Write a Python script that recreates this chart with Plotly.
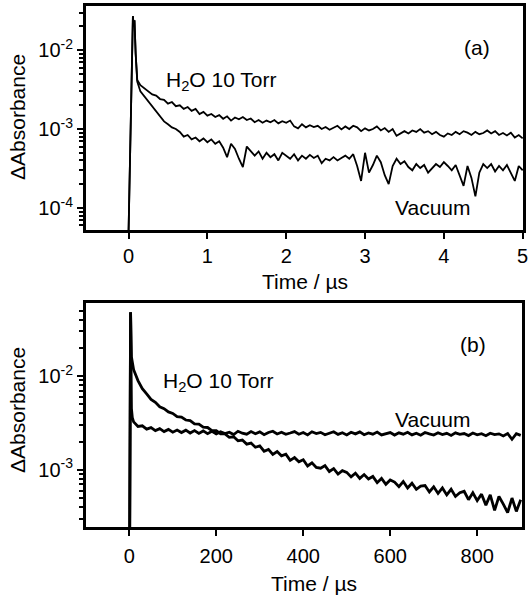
import plotly.graph_objects as go

# ---------------- Panel (a) data : time in µs, ΔAbsorbance ----------------
t_a_head = [0.0, 0.045, 0.055, 0.065, 0.075, 0.09, 0.11]
h2o_a_head = [5e-5, 2.0e-2, 2.7e-2, 2.0e-2, 2.4e-2, 9.0e-3, 4.2e-3]
vac_a_head = [5e-5, 2.0e-2, 2.7e-2, 2.0e-2, 2.4e-2, 9.0e-3, 4.0e-3]

t_a_tail = [0.15, 0.20, 0.25, 0.30, 0.35, 0.40, 0.45, 0.50, 0.55, 0.60,
            0.65, 0.70, 0.75, 0.80, 0.85, 0.90, 0.95, 1.00, 1.05, 1.10,
            1.15, 1.20, 1.25, 1.30, 1.35, 1.40, 1.45, 1.50, 1.55, 1.60,
            1.65, 1.70, 1.75, 1.80, 1.85, 1.90, 1.95, 2.00, 2.05, 2.10,
            2.15, 2.20, 2.25, 2.30, 2.35, 2.40, 2.45, 2.50, 2.55, 2.60,
            2.65, 2.70, 2.75, 2.80, 2.85, 2.90, 2.95, 3.00, 3.05, 3.10,
            3.15, 3.20, 3.25, 3.30, 3.35, 3.40, 3.45, 3.50, 3.55, 3.60,
            3.65, 3.70, 3.75, 3.80, 3.85, 3.90, 3.95, 4.00, 4.05, 4.10,
            4.15, 4.20, 4.25, 4.30, 4.35, 4.40, 4.45, 4.50, 4.55, 4.60,
            4.65, 4.70, 4.75, 4.80, 4.85, 4.90, 4.95, 5.00]

h2o_a_tail = [3.6e-3, 3.3e-3, 3.0e-3, 2.75e-3, 2.65e-3, 2.4e-3, 2.35e-3, 2.1e-3, 2.2e-3, 1.95e-3,
              2.0e-3, 1.8e-3, 1.9e-3, 1.7e-3, 1.8e-3, 1.55e-3, 1.65e-3, 1.48e-3, 1.55e-3, 1.42e-3,
              1.5e-3, 1.35e-3, 1.45e-3, 1.28e-3, 1.4e-3, 1.33e-3, 1.42e-3, 1.3e-3, 1.36e-3, 1.22e-3,
              1.3e-3, 1.2e-3, 1.28e-3, 1.22e-3, 1.3e-3, 1.18e-3, 1.26e-3, 1.2e-3, 1.28e-3, 1.08e-3,
              1.02e-3, 1.15e-3, 1.05e-3, 1.12e-3, 1.06e-3, 1.1e-3, 1.0e-3, 1.06e-3, 9.8e-4, 1.04e-3,
              1.1e-3, 9.9e-4, 1.08e-3, 1.0e-3, 1.1e-3, 1.05e-3, 9.4e-4, 1.02e-3, 9.6e-4, 1.0e-3,
              1.08e-3, 9.6e-4, 1.03e-3, 9.2e-4, 1.0e-3, 8.2e-4, 8.8e-4, 9.4e-4, 8.8e-4, 9.6e-4,
              9.2e-4, 1.0e-3, 9.0e-4, 9.4e-4, 8.6e-4, 9.2e-4, 8.4e-4, 8.0e-4, 8.8e-4, 8.4e-4,
              9.2e-4, 8.6e-4, 9.4e-4, 9.0e-4, 8.4e-4, 9.2e-4, 8.6e-4, 8.9e-4, 9.6e-4, 8.8e-4,
              9.4e-4, 8.4e-4, 8.9e-4, 8.3e-4, 9.0e-4, 7.8e-4, 8.4e-4, 7.6e-4]

vac_a_tail = [3.0e-3, 2.6e-3, 2.2e-3, 1.9e-3, 1.65e-3, 1.45e-3, 1.25e-3, 1.15e-3, 1.05e-3, 1.0e-3,
              9.2e-4, 8.0e-4, 8.4e-4, 7.4e-4, 7.8e-4, 7.0e-4, 7.6e-4, 6.8e-4, 7.4e-4, 6.5e-4,
              7.0e-4, 5.8e-4, 4.4e-4, 6.5e-4, 5.6e-4, 4.2e-4, 3.3e-4, 6.0e-4, 5.2e-4, 4.6e-4,
              5.2e-4, 4.2e-4, 5.0e-4, 4.4e-4, 4.8e-4, 4.0e-4, 5.0e-4, 4.6e-4, 4.2e-4, 4.8e-4,
              4.0e-4, 4.6e-4, 4.2e-4, 4.7e-4, 4.3e-4, 4.6e-4, 3.7e-4, 4.2e-4, 4.0e-4, 4.4e-4,
              4.0e-4, 4.3e-4, 4.6e-4, 4.2e-4, 4.8e-4, 3.4e-4, 2.2e-4, 5.0e-4, 2.8e-4, 3.5e-4,
              4.6e-4, 3.8e-4, 2.6e-4, 2.0e-4, 3.4e-4, 4.2e-4, 3.6e-4, 3.9e-4, 3.3e-4, 3.0e-4,
              3.6e-4, 3.2e-4, 3.5e-4, 2.8e-4, 3.2e-4, 3.6e-4, 3.3e-4, 3.8e-4, 3.4e-4, 3.0e-4,
              3.5e-4, 2.6e-4, 1.9e-4, 3.4e-4, 2.4e-4, 1.4e-4, 2.8e-4, 3.6e-4, 3.2e-4, 3.6e-4,
              2.9e-4, 3.4e-4, 3.0e-4, 3.5e-4, 2.8e-4, 2.2e-4, 3.4e-4, 3.0e-4]

# ---------------- Panel (b) data : time in µs, ΔAbsorbance ----------------
t_b_head = [1, 3, 5, 7]
h2o_b_head = [2.4e-4, 4.8e-2, 1.6e-2, 1.32e-2]
vac_b_head = [2.4e-4, 4.8e-2, 4.5e-3, 3.6e-3]

t_b_tail = [10, 20, 30, 40, 50, 60, 70, 80, 90, 100,
            110, 120, 130, 140, 150, 160, 170, 180, 190, 200,
            210, 220, 230, 240, 250, 260, 270, 280, 290, 300,
            310, 320, 330, 340, 350, 360, 370, 380, 390, 400,
            410, 420, 430, 440, 450, 460, 470, 480, 490, 500,
            510, 520, 530, 540, 550, 560, 570, 580, 590, 600,
            610, 620, 630, 640, 650, 660, 670, 680, 690, 700,
            710, 720, 730, 740, 750, 760, 770, 780, 790, 800,
            810, 820, 830, 840, 850, 860, 870, 880, 890, 900]

h2o_b_tail = [1.17e-2, 8.95e-3, 7.35e-3, 6.45e-3, 5.65e-3, 5.25e-3, 4.7e-3, 4.5e-3, 4.15e-3, 4.0e-3,
              3.7e-3, 3.65e-3, 3.4e-3, 3.35e-3, 3.1e-3, 3.07e-3, 2.85e-3, 2.83e-3, 2.62e-3, 2.62e-3,
              2.42e-3, 2.42e-3, 2.22e-3, 2.25e-3, 2.04e-3, 2.08e-3, 1.88e-3, 1.93e-3, 1.74e-3, 1.80e-3,
              1.58e-3, 1.65e-3, 1.46e-3, 1.57e-3, 1.41e-3, 1.47e-3, 1.26e-3, 1.35e-3, 1.22e-3, 1.28e-3,
              1.1e-3, 1.19e-3, 1.06e-3, 1.04e-3, 1.11e-3, 9.6e-4, 1.03e-3, 9.0e-4, 9.8e-4, 9.4e-4,
              8.4e-4, 9.2e-4, 8.1e-4, 8.9e-4, 8.0e-4, 8.5e-4, 7.3e-4, 8.1e-4, 7.0e-4, 7.8e-4,
              7.4e-4, 6.6e-4, 7.5e-4, 6.4e-4, 7.2e-4, 6.2e-4, 6.7e-4, 6.8e-4, 5.8e-4, 6.6e-4,
              5.6e-4, 6.4e-4, 5.4e-4, 6.2e-4, 5.2e-4, 5.7e-4, 5.9e-4, 4.8e-4, 5.7e-4, 4.7e-4,
              5.5e-4, 4.2e-4, 5.4e-4, 3.7e-4, 5.2e-4, 4.3e-4, 3.5e-4, 5.0e-4, 3.6e-4, 4.8e-4]

vac_b_tail = [3.25e-3, 2.9e-3, 2.95e-3, 2.72e-3, 2.82e-3, 2.62e-3, 2.75e-3, 2.56e-3, 2.7e-3, 2.52e-3,
              2.66e-3, 2.5e-3, 2.65e-3, 2.47e-3, 2.62e-3, 2.45e-3, 2.6e-3, 2.43e-3, 2.58e-3, 2.42e-3,
              2.55e-3, 2.44e-3, 2.52e-3, 2.38e-3, 2.58e-3, 2.46e-3, 2.4e-3, 2.56e-3, 2.43e-3, 2.54e-3,
              2.37e-3, 2.5e-3, 2.58e-3, 2.41e-3, 2.52e-3, 2.39e-3, 2.47e-3, 2.56e-3, 2.4e-3, 2.5e-3,
              2.36e-3, 2.55e-3, 2.44e-3, 2.51e-3, 2.37e-3, 2.46e-3, 2.55e-3, 2.39e-3, 2.49e-3, 2.36e-3,
              2.52e-3, 2.42e-3, 2.54e-3, 2.37e-3, 2.47e-3, 2.4e-3, 2.53e-3, 2.36e-3, 2.45e-3, 2.5e-3,
              2.35e-3, 2.48e-3, 2.4e-3, 2.52e-3, 2.36e-3, 2.46e-3, 2.34e-3, 2.5e-3, 2.42e-3, 2.35e-3,
              2.49e-3, 2.38e-3, 2.45e-3, 2.33e-3, 2.48e-3, 2.39e-3, 2.44e-3, 2.32e-3, 2.47e-3, 2.36e-3,
              2.43e-3, 2.31e-3, 2.46e-3, 2.38e-3, 2.42e-3, 2.3e-3, 2.44e-3, 2.12e-3, 2.43e-3, 2.33e-3]

# ---------------- axis labels ----------------
ytick_vals_a = [1e-4, 1e-3, 1e-2]
ytick_text_a = ["10<sup>-4</sup>", "10<sup>-3</sup>", "10<sup>-2</sup>"]
ytick_vals_b = [1e-3, 1e-2]
ytick_text_b = ["10<sup>-3</sup>", "10<sup>-2</sup>"]
xtick_vals_a = [0, 1, 2, 3, 4, 5]
xtick_vals_b = [0, 200, 400, 600, 800]
minor_a = [6e-5, 7e-5, 8e-5, 9e-5, 2e-4, 3e-4, 4e-4, 5e-4, 6e-4, 7e-4, 8e-4, 9e-4,
           2e-3, 3e-3, 4e-3, 5e-3, 6e-3, 7e-3, 8e-3, 9e-3, 2e-2, 3e-2]
minor_b = [3e-4, 4e-4, 5e-4, 6e-4, 7e-4, 8e-4, 9e-4,
           2e-3, 3e-3, 4e-3, 5e-3, 6e-3, 7e-3, 8e-3, 9e-3, 2e-2, 3e-2, 4e-2, 5e-2]

W, H = 528, 599
FONT = "Liberation Sans, Arial, Helvetica, sans-serif"

fig = go.Figure()
fig.add_trace(go.Scatter(x=t_a_head + t_a_tail, y=h2o_a_head + h2o_a_tail, mode="lines",
                         line=dict(color="black", width=1.8), xaxis="x", yaxis="y",
                         name="H2O 10 Torr", showlegend=False))
fig.add_trace(go.Scatter(x=t_a_head + t_a_tail, y=vac_a_head + vac_a_tail, mode="lines",
                         line=dict(color="black", width=1.8), xaxis="x", yaxis="y",
                         name="Vacuum", showlegend=False))
fig.add_trace(go.Scatter(x=t_b_head + t_b_tail, y=h2o_b_head + h2o_b_tail, mode="lines",
                         line=dict(color="black", width=2.8), xaxis="x2", yaxis="y2",
                         name="H2O 10 Torr", showlegend=False))
fig.add_trace(go.Scatter(x=t_b_head + t_b_tail, y=vac_b_head + vac_b_tail, mode="lines",
                         line=dict(color="black", width=2.8), xaxis="x2", yaxis="y2",
                         name="Vacuum", showlegend=False))


def px_x(px):
    return px / W


def px_y(py):
    return 1 - py / H


common_x = dict(showline=True, linewidth=3, linecolor="black", mirror=True,
                ticks="outside", ticklen=6, tickwidth=2, tickcolor="black",
                showgrid=False, zeroline=False, ticklabeloverflow="allow",
                automargin=False,
                tickfont=dict(family=FONT, size=20, color="black"))
common_y = dict(type="log", showline=True, linewidth=3, linecolor="black", mirror=True,
                ticks="outside", ticklen=6, tickwidth=2, tickcolor="black",
                showgrid=False, zeroline=False, tickmode="array", automargin=False,
                tickfont=dict(family=FONT, size=20, color="black"))

fig.update_layout(
    width=W, height=H,
    margin=dict(l=0, r=0, t=0, b=0),
    paper_bgcolor="white", plot_bgcolor="white",
    font=dict(family=FONT, size=21, color="black"),
    xaxis=dict(domain=[px_x(86), px_x(523)], anchor="y", range=[-0.54, 5.004],
               tickvals=xtick_vals_a, ticklabelstandoff=0, **common_x),
    yaxis=dict(domain=[px_y(230), px_y(6)], anchor="x", range=[-4.28, -1.44],
               tickvals=ytick_vals_a, ticktext=ytick_text_a,
               minor=dict(tickvals=minor_a, ticks="outside", ticklen=4, tickwidth=1.5,
                          tickcolor="black", showgrid=False),
               **common_y),
    xaxis2=dict(domain=[px_x(86), px_x(522)], anchor="y2", range=[-99.5, 903],
                tickvals=xtick_vals_b, ticklabelstandoff=3, **common_x),
    yaxis2=dict(domain=[px_y(527), px_y(303)], anchor="x2", range=[-3.61, -1.22],
                tickvals=ytick_vals_b, ticktext=ytick_text_b,
                minor=dict(tickvals=minor_b, ticks="outside", ticklen=4, tickwidth=1.5,
                           tickcolor="black", showgrid=False),
                **common_y),
)

annos = [
    dict(text="ΔAbsorbance", x=px_x(17), y=px_y(117), textangle=-90),
    dict(text="ΔAbsorbance", x=px_x(17), y=px_y(410), textangle=-90),
    dict(text="Time / µs", x=px_x(305), y=px_y(281)),
    dict(text="Time / µs", x=px_x(314), y=px_y(583)),
    dict(text="(a)", x=px_x(477), y=px_y(47)),
    dict(text="(b)", x=px_x(473), y=px_y(344)),
    dict(text="H<sub>2</sub>O 10 Torr", x=px_x(164), y=px_y(81), xanchor="left"),
    dict(text="H<sub>2</sub>O 10 Torr", x=px_x(161), y=px_y(382), xanchor="left"),
    dict(text="Vacuum", x=px_x(432), y=px_y(208)),
    dict(text="Vacuum", x=px_x(432), y=px_y(419)),
]
for a in annos:
    a.setdefault("xanchor", "center")
    fig.add_annotation(xref="paper", yref="paper", yanchor="middle", showarrow=False,
                       font=dict(family=FONT, size=21, color="black"), **a)

fig.write_html(
    "out.html",
    post_script=(
        "document.documentElement.style.overflow='hidden';"
        "document.body.style.overflow='hidden';"
        "document.body.style.margin='0';"
    ),
)
